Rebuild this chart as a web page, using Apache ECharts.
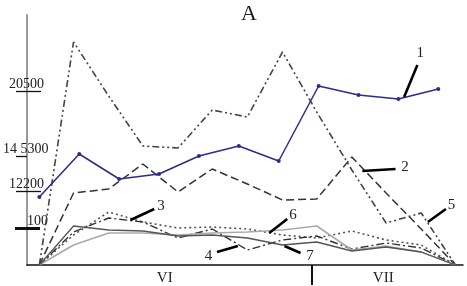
<!DOCTYPE html>
<html>
<head>
<meta charset="utf-8">
<script src="https://cdn.jsdelivr.net/npm/echarts@6/dist/echarts.min.js"></script>
<style>html,body{margin:0;padding:0;background:#fff}#c{width:467px;height:286px}</style>
</head>
<body>
<div id="c"></div>
<script>
// x in days from 1 June; y in relative units of the figure's scale
var xBlue = [1.3, 5.5, 9.7, 13.9, 18.1, 22.3, 26.5, 30.7, 34.9, 39.1, 43.3];
var s1 = [68, 111, 86, 91, 109, 119, 104, 179, 170, 166, 176];
var xOther = [1.3, 4.9, 8.6, 12.2, 15.9, 19.5, 23.2, 26.9, 30.5, 34.2, 37.8, 41.5, 45.1];
var s2 = [0, 72, 76, 101, 73, 96, 81, 65, 66, 108, 72, 36, 0];
var s3 = [0, 30, 53, 43, 37, 38, 36, 30, 27, 34, 25, 20, 0];
var s4 = [0, 33, 47, 43, 27, 36, 15, 25, 29, 16, 22, 17, 0];
var s5 = [0, 223, 169, 119, 117, 155, 148, 213, 153, 95, 42, 52, 0];
var s6 = [0, 20, 32, 32, 30, 32, 33, 35, 39, 15, 19, 13, 0];
var s7 = [0, 39, 35, 34, 29, 30, 27, 20, 23, 14, 18, 13, 0];
var yTickValues = [174, 109, 74, 37];
var yTickLabels = ['20500', '14 5300', '12200', '100'];
var monthCenters = [14.5, 37.5];
var monthLabels = ['VI', 'VII'];
var monthBoundary = [30];
// annotation leaders: [label, fromX, fromY, toX, toY, textX, textY]
var leaders = [
  ['1', 39.7, 168, 41.1, 200, 41.4, 212],
  ['2', 35.3, 94, 38.8, 96, 39.8, 98],
  ['3', 10.9, 45, 13.4, 56, 14.1, 59],
  ['4', 22.2, 19, 20.0, 13, 19.1, 9],
  ['5', 42.2, 43, 44.1, 56, 44.7, 60],
  ['6', 25.5, 32, 27.4, 46, 28.0, 50],
  ['7', 27.1, 19, 28.8, 12, 29.8, 9]
];

var FONT = 'Liberation Serif';
function pairs(xs, ys) { return xs.map(function (x, i) { return [x, ys[i]]; }); }

var chart = echarts.init(document.getElementById('c'), null, {renderer: 'canvas'});

var yBase = {type: 'value', min: 0, max: 250, position: 'left', splitLine: {show: false}};
function yAx(extra) { return Object.assign({}, yBase, extra); }

var lineCommon = {type: 'line', symbol: 'none', silent: true, xAxisIndex: 0, yAxisIndex: 0};

var option = {
  animation: false,
  backgroundColor: '#fff',
  title: {text: 'A', left: 236, top: -2, textStyle: {fontFamily: FONT, fontSize: 22, fontWeight: 'normal', color: '#222'}},
  grid: {left: 24, right: 4, top: 15, bottom: 21, containLabel: false},
  xAxis: {
    type: 'value', min: 0, max: 45.9,
    splitLine: {show: false},
    axisLine: {lineStyle: {color: '#111', width: 1.5}},
    axisTick: {show: true, customValues: monthBoundary, length: 20, lineStyle: {color: '#111', width: 2}},
    axisLabel: {
      customValues: monthCenters, margin: 6,
      fontFamily: FONT, fontSize: 15, color: '#222',
      formatter: function (v) {
        for (var i = 0; i < monthCenters.length; i++) if (Math.abs(monthCenters[i] - v) < 0.01) return monthLabels[i];
        return '';
      }
    }
  },
  yAxis: [
    yAx({
      axisLine: {show: true, lineStyle: {color: '#999', width: 2}},
      axisTick: {show: true, customValues: yTickValues.slice(0, 3), length: 11, lineStyle: {color: '#111', width: 1.3}},
      axisLabel: {
        customValues: yTickValues, margin: 24, align: 'left', verticalAlign: 'bottom',
        fontFamily: FONT, fontSize: 14, color: '#222',
        formatter: function (v) {
          for (var i = 0; i < yTickValues.length; i++) if (yTickValues[i] === v) {
            var st = i === 1 ? 'b' : (i === 3 ? 'c' : 'a');
            return '{' + st + '|' + yTickLabels[i] + '}';
          }
          return '';
        },
        rich: {
          a: {fontFamily: FONT, fontSize: 14, color: '#222', padding: [0, 0, 0, 6]},
          b: {fontFamily: FONT, fontSize: 14, color: '#222', padding: [0, 0, 0, 0]},
          c: {fontFamily: FONT, fontSize: 14, color: '#222', padding: [0, 0, 0, 24]}
        }
      }
    }),
    yAx({
      axisLine: {show: false},
      axisTick: {show: true, inside: true, customValues: [174, 74], length: 14, lineStyle: {color: '#111', width: 1.3}},
      axisLabel: {show: false}
    }),
    yAx({
      axisLine: {show: false},
      axisTick: {show: true, customValues: [37], length: 12, lineStyle: {color: '#111', width: 3}},
      axisLabel: {show: false}
    }),
    yAx({
      axisLine: {show: false},
      axisTick: {show: true, inside: true, customValues: [37], length: 13, lineStyle: {color: '#111', width: 3}},
      axisLabel: {show: false}
    })
  ],
  series: [
    Object.assign({}, lineCommon, {name: '5', data: pairs(xOther, s5), lineStyle: {color: '#444', width: 1.6, type: [7, 3, 2, 3, 2, 3]}}),
    Object.assign({}, lineCommon, {name: '2', data: pairs(xOther, s2), lineStyle: {color: '#333', width: 1.5, type: [8, 4]}}),
    Object.assign({}, lineCommon, {name: '3', data: pairs(xOther, s3), lineStyle: {color: '#555', width: 1.6, type: [2, 3]}}),
    Object.assign({}, lineCommon, {name: '4', data: pairs(xOther, s4), lineStyle: {color: '#333', width: 1.4, type: [8, 3, 2, 3]}}),
    Object.assign({}, lineCommon, {name: '6', data: pairs(xOther, s6), lineStyle: {color: '#aaa', width: 1.6, type: 'solid'}}),
    Object.assign({}, lineCommon, {name: '7', data: pairs(xOther, s7), lineStyle: {color: '#555', width: 1.3, type: 'solid'}}),
    Object.assign({}, lineCommon, {
      name: '1', data: pairs(xBlue, s1), symbol: 'circle', symbolSize: 4,
      itemStyle: {color: '#2a2d8c'}, lineStyle: {color: '#2a2d8c', width: 1.5}
    }),
    {
      type: 'line', data: [], silent: true, xAxisIndex: 0, yAxisIndex: 0,
      markLine: {
        symbol: ['none', 'none'], silent: true, animation: false,
        lineStyle: {color: '#000', width: 2.6, type: 'solid'},
        label: {show: false},
        emphasis: {disabled: true},
        data: leaders.map(function (l) { return [{coord: [l[1], l[2]]}, {coord: [l[3], l[4]]}]; })
      },
      markPoint: {
        silent: true, animation: false,
        symbol: 'rect', symbolSize: 1, itemStyle: {color: 'rgba(0,0,0,0)'},
        label: {show: true, position: 'inside', fontFamily: FONT, fontSize: 15, color: '#222'},
        data: leaders.map(function (l) { return {coord: [l[5], l[6]], value: l[0], label: {formatter: l[0]}}; })
      }
    }
  ]
};
chart.setOption(option);
</script>
</body>
</html>
